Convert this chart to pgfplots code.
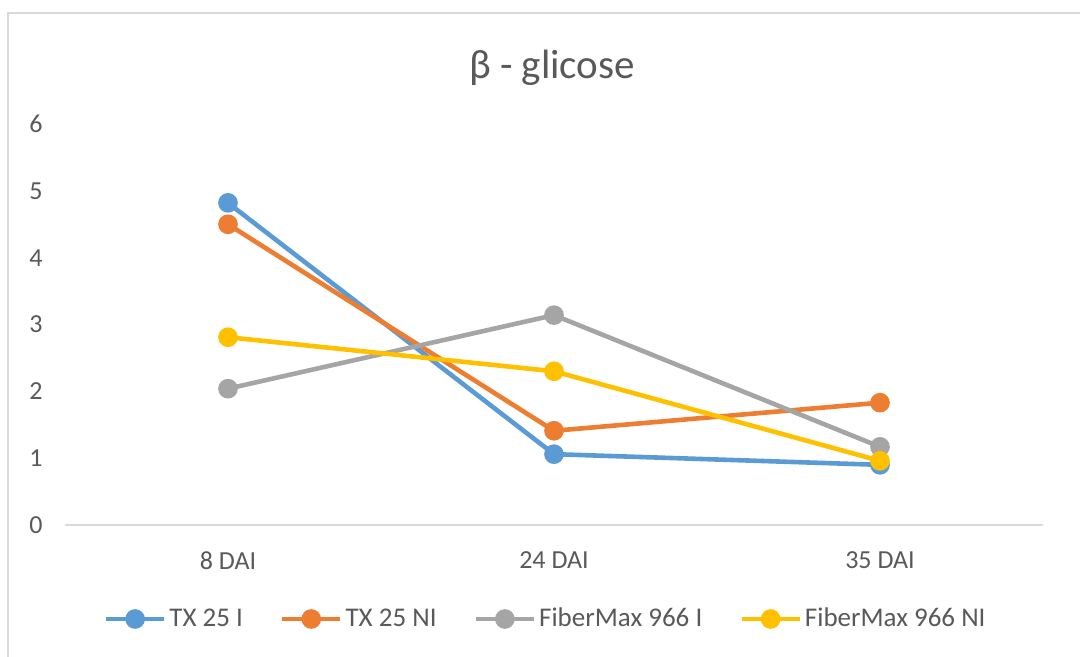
\documentclass[border=0pt]{standalone}
\usepackage{fontspec}
\setmainfont{Carlito}
\usepackage{pgfplots}
\pgfplotsset{compat=1.18}
\definecolor{cblue}{HTML}{5B9BD5}
\definecolor{corange}{HTML}{ED7D31}
\definecolor{cgray}{HTML}{A5A5A5}
\definecolor{cyellow}{HTML}{FFC000}
\definecolor{txt}{HTML}{595959}
\definecolor{axisgray}{HTML}{D9D9D9}
\begin{document}
\begin{tikzpicture}
\useasboundingbox (0pt,0pt) rectangle (540pt,-328.5pt);
\clip (0pt,0pt) rectangle (540pt,-328.5pt);
\draw[color=axisgray, line width=0.8pt] (4pt,-400pt) -- (4pt,-6.5pt) -- (600pt,-6.5pt);
\begin{axis}[
  at={(32.5pt,-262.5pt)}, anchor=south west,
  scale only axis, width=489pt, height=200.5pt,
  xmin=-0.5, xmax=2.5, ymin=0, ymax=6,
  xtick={0,1,2}, xticklabels={8 DAI,24 DAI,35 DAI},
  ytick={0,1,2,3,4,5,6},
  /pgf/number format/assume math mode=true,
  axis x line*=bottom, axis y line*=left,
  y axis line style={draw=none},
  x axis line style={draw=axisgray, line width=0.8pt, -},
  major tick length=0pt,
  tick style={draw=none},
  ticklabel style={font=\fontsize{13}{15}\selectfont, text=txt},
  yticklabel style={anchor=east, inner sep=0pt, xshift=-11pt},
  xticklabel style={anchor=north, inner sep=0pt, yshift=-13pt},
  title={β - glicose},
  title style={font=\fontsize{20.5}{24}\selectfont, text=txt, at={(0.498,1)}, anchor=center, yshift=22pt},
  legend columns=4,
  legend style={draw=none, fill=none, at={(0.492,-0.2344)}, anchor=center,
    font=\fontsize{13.5}{15}\selectfont, text=txt,
    /tikz/every even column/.append style={column sep=17pt},
    nodes={inner sep=1.5pt}},
  legend cell align=left,
  legend image code/.code={\draw[mark repeat=2,mark phase=2] plot coordinates {(0pt,0pt) (14.5pt,0pt) (29pt,0pt)};},
  every axis plot/.append style={line width=2.3pt, mark=*, mark size=3.75pt},
]
\addplot[color=cblue, mark options={fill=cblue}] coordinates {(0,4.82) (1,1.06) (2,0.90)};
\addlegendentry{TX 25 I}
\addplot[color=corange, mark options={fill=corange}] coordinates {(0,4.50) (1,1.41) (2,1.83)};
\addlegendentry{TX 25 NI}
\addplot[color=cgray, mark options={fill=cgray}] coordinates {(0,2.04) (1,3.14) (2,1.17)};
\addlegendentry{FiberMax 966 I}
\addplot[color=cyellow, mark options={fill=cyellow}] coordinates {(0,2.81) (1,2.30) (2,0.96)};
\addlegendentry{FiberMax 966 NI}
\end{axis}
\end{tikzpicture}
\end{document}
